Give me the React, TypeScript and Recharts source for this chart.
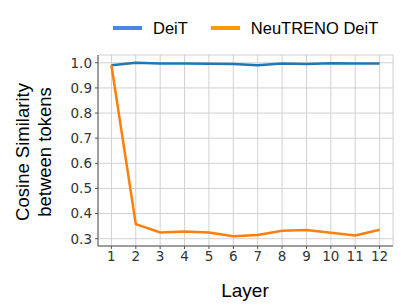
import React from 'react'
import { CartesianGrid, Line, LineChart, XAxis, YAxis } from 'recharts'

const layers = [1, 2, 3, 4, 5, 6, 7, 8, 9, 10, 11, 12]
const deit = [0.99, 1.0, 0.997, 0.997, 0.996, 0.995, 0.99, 0.997, 0.995, 0.998, 0.997, 0.997]
const neutreno = [0.99, 0.358, 0.325, 0.329, 0.325, 0.31, 0.315, 0.332, 0.335, 0.324, 0.313, 0.336]
const yTicks = [0.3, 0.4, 0.5, 0.6, 0.7, 0.8, 0.9, 1.0]

const series = [
  { key: 'deit', name: 'DeiT', color: '#1f77b4', legendColor: '#4a86e8' },
  { key: 'neutreno', name: 'NeuTRENO DeiT', color: '#ff7f0e', legendColor: '#ff9900' },
]

const data = layers.map((layer, i) => ({ layer, deit: deit[i], neutreno: neutreno[i] }))

const tickStyle = { fontFamily: 'DejaVu Sans', fontSize: 13.5, fill: '#333' }

function YLabel() {
  return (
    <text
      transform="translate(33,152) rotate(-90)"
      textAnchor="middle"
      fontFamily="Liberation Sans, Arial"
      fontSize={18.5}
      fill="#000"
    >
      <tspan x={0} dy={-4.5}>Cosine Similarity</tspan>
      <tspan x={0} dy={22}>between tokens</tspan>
    </text>
  )
}

export default function App() {
  return (
    <div style={{ position: 'absolute', left: 0, top: 0, width: 415, height: 307, background: '#fff' }}>
      <div
        style={{
          position: 'absolute',
          top: 18,
          left: 113,
          display: 'flex',
          alignItems: 'center',
          fontFamily: 'Liberation Sans, Arial',
          fontSize: 16.5,
          lineHeight: '20px',
          color: '#000',
        }}
      >
        {series.map((s, i) => (
          <div key={s.key} style={{ display: 'flex', alignItems: 'center', marginRight: i === 0 ? 23 : 0 }}>
            <div style={{ width: 29, height: 4, background: s.legendColor, marginRight: 11 }} />
            <span>{s.name}</span>
          </div>
        ))}
      </div>
      <LineChart
        width={415}
        height={307}
        data={data}
        margin={{ top: 55, right: 22, bottom: 0, left: 0 }}
      >
        <CartesianGrid stroke="#d0d0d0" strokeWidth={1} />
        <XAxis
          dataKey="layer"
          type="number"
          domain={[0.45, 12.55]}
          ticks={layers}
          interval={0}
          height={61}
          tick={tickStyle}
          tickSize={3}
          tickMargin={2}
          stroke="#555"
          allowDataOverflow
        />
        <YAxis
          type="number"
          domain={[0.271, 1.031]}
          ticks={yTicks}
          tickFormatter={(v: number) => v.toFixed(1)}
          width={98}
          tick={tickStyle}
          tickSize={3}
          tickMargin={3}
          stroke="#555"
          allowDataOverflow
          label={<YLabel />}
        />
        <XAxis xAxisId="top" orientation="top" tick={false} height={0} stroke="#888" dataKey="layer" type="number" domain={[0.45, 12.55]} />
        <YAxis yAxisId="right" orientation="right" tick={false} width={0} stroke="#555" domain={[0.271, 1.031]} />
        {series.map((s) => (
          <Line
            key={s.key}
            dataKey={s.key}
            name={s.name}
            stroke={s.color}
            strokeWidth={2.5}
            dot={false}
            isAnimationActive={false}
          />
        ))}
        <text x={245} y={297} textAnchor="middle" fontFamily="Liberation Sans, Arial" fontSize={19} fill="#000">
          Layer
        </text>
      </LineChart>
    </div>
  )
}
